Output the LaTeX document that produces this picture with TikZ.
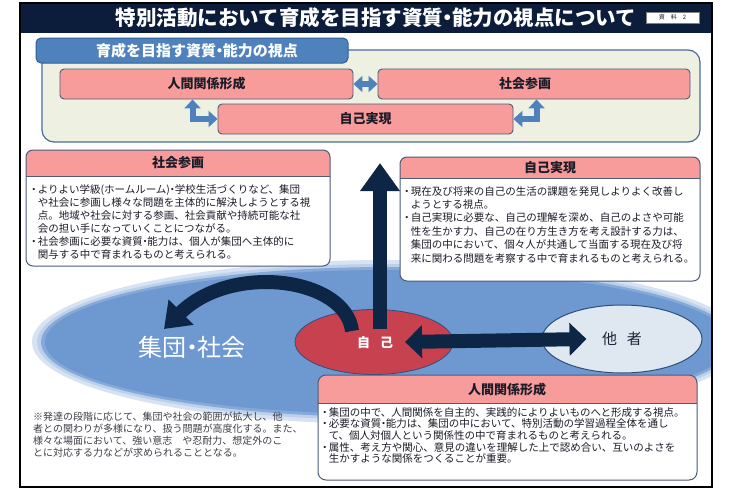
\documentclass[tikz,border=0pt]{standalone}
\usepackage{fontspec}
\setmainfont{Noto Sans CJK JP}
\usetikzlibrary{arrows.meta,shapes.geometric}
\definecolor{navy}{HTML}{0B1D3A}
\definecolor{darkarrow}{HTML}{0E2645}
\definecolor{panelfill}{HTML}{EEF0E1}
\definecolor{paneledge}{HTML}{4A6D9A}
\definecolor{tabfill}{HTML}{4F81BD}
\definecolor{tabedge}{HTML}{2F5F97}
\definecolor{pinkc}{HTML}{F89B9B}
\definecolor{boxedge}{HTML}{4C5B7A}
\definecolor{textc}{HTML}{1C1C28}
\definecolor{bluecore}{HTML}{6E98D0}
\definecolor{bluehalo}{HTML}{BCD0EA}
\definecolor{redell}{HTML}{C8414F}
\definecolor{otherfill}{HTML}{DFE7F1}
\definecolor{otheredge}{HTML}{2E4F7A}
\newcommand\jbul{\makebox[0.72em][c]{・}}
\newcommand\jind{\hspace*{0.72em}}
\newcommand\jdot{\makebox[0.45em][c]{・}}
\tikzset{blktip/.tip={Triangle[width=16pt,length=9pt]},
  darktip/.tip={Triangle[width=32pt,length=17pt]}}
\begin{document}
\begin{tikzpicture}[x=1pt,y=-1pt,
  pinkbox/.style={draw=boxedge, fill=pinkc, rounded corners=4pt, line width=0.9pt,
    minimum height=30pt, inner sep=0pt, font=\fontsize{13}{15}\selectfont\bfseries, text=textc},
  blk/.style={draw=tabfill, line width=6pt, line join=miter},
  darr/.style={draw=darkarrow, line width=15pt},
  bodytext/.style={anchor=north west, align=left, inner sep=0pt, text=textc},
  headtext/.style={font=\fontsize{13}{15}\selectfont\bfseries, text=textc, inner sep=0pt}
]
\useasboundingbox (0,0) rectangle (731,490);
\fill[white] (0,0) rectangle (731,490);

% title bar
\fill[navy] (20,3) rectangle (712,33);
\node[text=white, font=\fontsize{20.5}{22}\selectfont\bfseries, inner sep=0pt] (title) at (376,18)
  {特別活動において育成を目指す資質\jdot 能力の視点について};
\node[draw=gray, fill=white, minimum width=53pt, minimum height=11pt, inner sep=0pt,
  font=\fontsize{6}{6}\selectfont, text=textc] (doc) at (672.5,17.5) {資　料　2};

% top panel
\draw[fill=panelfill, draw=paneledge, line width=1.2pt, rounded corners=12pt] (42,50) rectangle (700,142);
\draw[fill=tabfill, draw=tabedge, line width=1pt, rounded corners=5pt] (36,38) rectangle (348,63);
\node[text=white, font=\fontsize{15}{17}\selectfont\bfseries, inner sep=0pt] (tab) at (197,51)
  {育成を目指す資質\jdot 能力の視点};

\node[pinkbox, minimum width=293pt] (p1) at (206.5,84) {人間関係形成};
\node[pinkbox, minimum width=312pt] (p2) at (534,84) {\hspace*{-18pt}社会参画};
\node[pinkbox, minimum width=295pt] (p3) at (365.5,119) {自己実現};

\draw[blk, blktip-blktip] (p1.east) -- (p2.west);
\draw[blk, blktip-blktip] ([xshift=133pt]p1.south west) |- (p3.west);
\draw[blk, blktip-blktip] (p3.east) -| ([xshift=159pt]p2.south west);

% big ellipse (group / society)
\begin{scope}
\clip (20,3) rectangle (712,487);
\fill[bluehalo!60!white] (388,342) ellipse [x radius=356, y radius=82];
\fill[bluehalo] (388,342) ellipse [x radius=351, y radius=78];
\fill[bluecore!70!bluehalo] (388,342) ellipse [x radius=347, y radius=75];
\fill[bluecore] (388,342) ellipse [x radius=343, y radius=72];
\end{scope}
\node[text=white, font=\fontsize{24}{26}\selectfont, inner sep=0pt] (grp) at (192,347) {集団\jdot 社会};

% self and others
\node[ellipse, fill=redell, draw=otheredge, line width=0.8pt, minimum width=158pt, minimum height=65pt] (me) at (374,342) {};
\node[text=white, font=\fontsize{13}{15}\selectfont\bfseries, inner sep=0pt] (metext) at (375,343) {自\hspace{10pt}己};
\node[ellipse, fill=otherfill, draw=otheredge, line width=1pt, minimum width=160pt, minimum height=68pt,
  text=textc!85!otheredge, font=\fontsize{15}{17}\selectfont] (other) at (622,339) {他\hspace{10pt}者};

% dark arrows
\coordinate (vs) at (380,329);
\coordinate (vt) at (380,163);
\draw[darr, line width=14pt, -{Triangle[width=38pt,length=28pt]}] (vs) -- (vt);
\coordinate (cs) at (352,331);
\coordinate (ct) at (164,329);
\draw[darr, line width=14pt, -{Triangle[width=34pt,length=24pt]}] (cs) .. controls (346,278) and (232,262) .. (ct);
\draw[darr, line width=14pt, darktip-darktip]
  ([xshift=31pt]me.center) -- ([xshift=45pt]other.west);

% box: shakai sankaku
\begin{scope}
\clip[rounded corners=7pt] (26,150) rectangle (330,266);
\fill[white] (26,150) rectangle (330,266);
\fill[pinkc] (26,150) rectangle (330,176);
\end{scope}
\draw[boxedge, line width=0.9pt] (26,176) -- (330,176);
\draw[boxedge, line width=1pt, rounded corners=7pt] (26,150) rectangle (330,266);
\node[headtext] (h1) at (178,163) {社会参画};
\node[bodytext, font=\fontsize{10.5}{13}\selectfont] (b1) at (30,184) {%
\jbul よりよい学級(ホームルーム)\jdot 学校生活づくりなど、集団\\
\jind や社会に参画し様々な問題を主体的に解決しようとする視\\
\jind 点。地域や社会に対する参画、社会貢献や持続可能な社\\
\jind 会の担い手になっていくことにつながる。\\
\jbul 社会参画に必要な資質\jdot 能力は、個人が集団へ主体的に\\
\jind 関与する中で育まれるものと考えられる。};

% box: jiko jitsugen
\begin{scope}
\clip[rounded corners=7pt] (400,157) rectangle (700,281);
\fill[white] (400,157) rectangle (700,281);
\fill[pinkc] (400,157) rectangle (700,178);
\end{scope}
\draw[boxedge, line width=0.9pt] (400,178) -- (700,178);
\draw[boxedge, line width=1pt, rounded corners=7pt] (400,157) rectangle (700,281);
\node[headtext] (h2) at (550,168) {自己実現};
\node[bodytext, font=\fontsize{10.5}{13.4}\selectfont] (b2) at (403,186) {%
\jbul 現在及び将来の自己の生活の課題を発見しよりよく改善し\\
\jind ようとする視点。\\
\jbul 自己実現に必要な、自己の理解を深め、自己のよさや可能\\
\jind 性を生かす力、自己の在り方生き方を考え設計する力は、\\
\jind 集団の中において、個々人が共通して当面する現在及び将\\
\jind 来に関わる問題を考察する中で育まれるものと考えられる。};

% box: ningen kankei keisei
\begin{scope}
\clip[rounded corners=8pt] (318,375) rectangle (697,480);
\fill[white] (318,375) rectangle (697,480);
\fill[pinkc] (318,375) rectangle (697,403);
\end{scope}
\draw[boxedge, line width=0.9pt] (318,403) -- (697,403);
\draw[boxedge, line width=1pt, rounded corners=8pt] (318,375) rectangle (697,480);
\node[headtext] (h3) at (507,390) {人間関係形成};
\node[bodytext, font=\fontsize{10.5}{11.7}\selectfont] (b3) at (321,407) {%
\jbul 集団の中で、人間関係を自主的、実践的によりよいものへと形成する視点。\\
\jbul 必要な資質\jdot 能力は、集団の中において、特別活動の学習過程全体を通し\\
\jind て、個人対個人という関係性の中で育まれるものと考えられる。\\
\jbul 属性、考え方や関心、意見の違いを理解した上で認め合い、互いのよさを\\
\jind 生かすような関係をつくることが重要。};

% footnote
\node[bodytext, font=\fontsize{10}{11.8}\selectfont, text=textc!85!white] (note) at (33,412) {%
※発達の段階に応じて、集団や社会の範囲が拡大し、他\\
者との関わりが多様になり、扱う問題が高度化する。また、\\
様々な場面において、強い意志　や忍耐力、想定外のこ\\
とに対応する力などが求められることとなる。};

% outer frame
\draw[black, line width=1.5pt] (20,3) rectangle (712,487);
\end{tikzpicture}
\end{document}
